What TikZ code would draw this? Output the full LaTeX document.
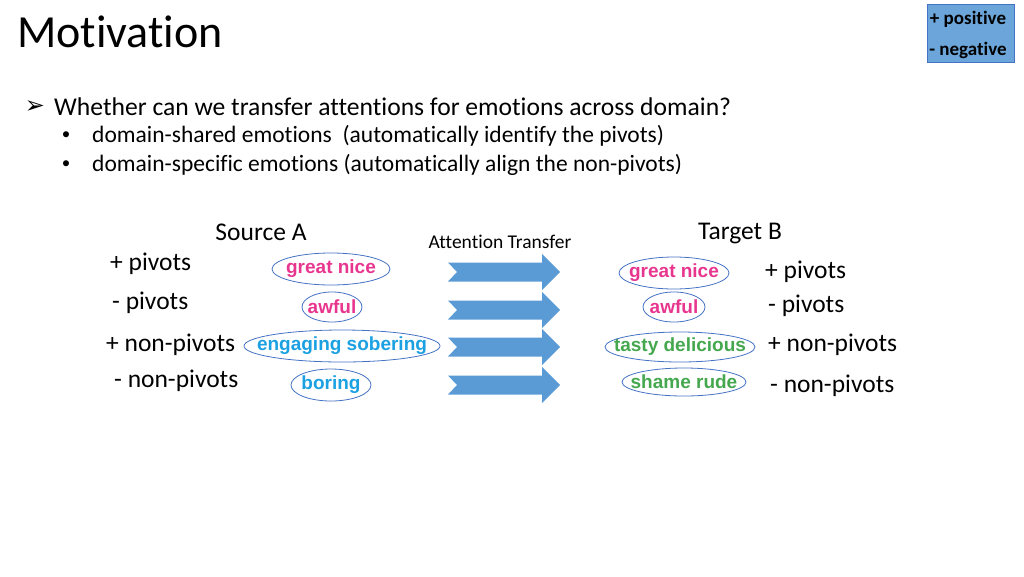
\documentclass[tikz,border=0pt]{standalone}
\usepackage{fontspec}
\setmainfont{Carlito}[Ligatures=NoCommon]
\newfontfamily\wordfont{Liberation Sans}
\newfontfamily\symfont{DejaVu Sans}
\usepackage{tikz}
\usetikzlibrary{positioning}
\definecolor{slideblue}{HTML}{5B9BD5}
\definecolor{edgeblue}{HTML}{4472C4}
\definecolor{wordpink}{HTML}{E8368F}
\definecolor{wordcyan}{HTML}{1BA1E2}
\definecolor{wordgreen}{HTML}{45A84F}
\tikzset{
  emo-label/.style={font=\fontsize{25.5}{28}\selectfont, anchor=west, inner sep=0pt},
  emo-word/.style={inner sep=0pt, font=\wordfont\bfseries\fontsize{19}{21}\selectfont},
  emo-ring/.style={draw=edgeblue, line width=0.8pt},
  emo-arrow/.style={fill=slideblue, draw=none},
  head-text/.style={font=\fontsize{25.5}{28}\selectfont, inner sep=0pt},
  body-text/.style={font=\fontsize{23.5}{27}\selectfont, anchor=west, inner sep=0pt}
}

\begin{document}
\begin{tikzpicture}[x=1pt, y=-1pt]
  \useasboundingbox (0,0) rectangle (1024,576);

  % Title and legend
  \node[font=\fontsize{46}{50}\selectfont, anchor=west, inner sep=0pt] (title) at (17,32) {Motivation};
  \node[draw=edgeblue, fill=slideblue!90, minimum width=87pt, minimum height=58pt, inner sep=0pt] (legend) at (970.5,33) {};
  \node[font=\bfseries\fontsize{19}{21}\selectfont, inner sep=0pt] (pos) at (968,19) {+ positive};
  \node[font=\bfseries\fontsize{19}{21}\selectfont, inner sep=0pt] (neg) at (968,50) {- negative};

  % Question and bullets
  \node[font=\symfont\fontsize{24}{26}\selectfont, inner sep=0pt] (qmark) at (35,107) {➢};
  \node[font=\fontsize{25.6}{30}\selectfont, anchor=west, inner sep=0pt] (question) at (54,107)
    {Whether can we transfer attentions for emotions across domain?};
  \node[font=\fontsize{17}{20}\selectfont, inner sep=0pt] (dot1) at (66,136) {•};
  \node[body-text] (shared) at (92,136)
    {domain-shared emotions\ \ (automatically identify the pivots)};
  \node[font=\fontsize{17}{20}\selectfont, inner sep=0pt] (dot2) at (66,165) {•};
  \node[body-text] (specific) at (92,165)
    {domain-specific emotions (automatically align the non-pivots)};

  % Headings
  \node[head-text] (source) at (261,232) {Source A};
  \node[font=\fontsize{19.5}{22}\selectfont, inner sep=0pt] (transfer) at (500,242) {Attention Transfer};
  \node[head-text] (target) at (740,234) {Target B};

  % Source side
  \node[emo-label] (spos) at (110,264) {+ pivots};
  \node[emo-label] (sneg) at (112,303) {- pivots};
  \node[emo-label] (snpos) at (106,345) {+ non-pivots};
  \node[emo-label] (snneg) at (114,381) {- non-pivots};

  \node[emo-word, text=wordpink] (sgreat) at (331,269) {great nice};
  \node[emo-word, text=wordpink] (sawful) at (332,307) {awful};
  \node[emo-word, text=wordcyan] (sengage) at (342,346) {engaging sobering};
  \node[emo-word, text=wordcyan] (sboring) at (331,385) {boring};

  % Transfer arrows
  \foreach \y in {272,310,347,385}{
    \fill[emo-arrow] (448,\y-9.5) -- (542,\y-9.5) -- (542,\y-18) -- (560,\y) -- (542,\y+18)
      -- (542,\y+9.5) -- (448,\y+9.5) -- (457,\y) -- cycle;
  }

  % Target side
  \node[emo-word, text=wordpink] (tgreat) at (674,273) {great nice};
  \node[emo-word, text=wordpink] (tawful) at (674,307) {awful};
  \node[emo-word, text=wordgreen] (ttasty) at (680,347) {tasty delicious};
  \node[emo-word, text=wordgreen] (tshame) at (684,382) {shame rude};

  \node[emo-label] (tpos) at (765,272) {+ pivots};
  \node[emo-label] (tneg) at (768,306) {- pivots};
  \node[emo-label] (tnpos) at (768,345) {+ non-pivots};
  \node[emo-label] (tnneg) at (770,386) {- non-pivots};

  % Rings round the words
  \foreach \w/\rx/\ry in {sgreat/59/16, sawful/30/15, sengage/98/16, sboring/40/16,
                          tgreat/55/16, tawful/31/15, ttasty/75/15, tshame/62/14}{
    \draw[emo-ring] (\w.center) ellipse (\rx pt and \ry pt);
  }
\end{tikzpicture}
\end{document}
